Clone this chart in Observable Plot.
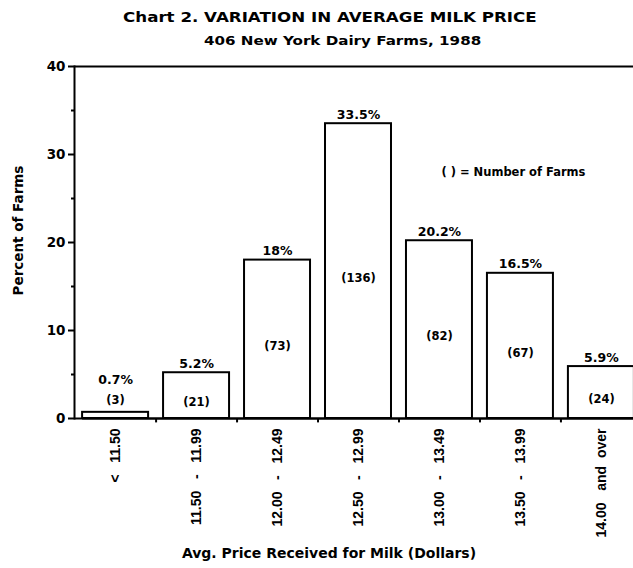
<!DOCTYPE html>
<html>
<head>
<meta charset="utf-8">
<script src="https://cdn.jsdelivr.net/npm/d3@7"></script>
<script src="https://cdn.jsdelivr.net/npm/@observablehq/plot@0.6"></script>
<style>
  html, body { margin: 0; padding: 0; background: white; }
  #wrap { position: relative; width: 633px; height: 568px; background: white; overflow: hidden; }
  .hdr { position: absolute; left: 0; width: 633px; text-align: center; font-family: "DejaVu Sans", sans-serif; font-weight: bold; line-height: 1; color: black; white-space: nowrap; }
  .hdr span { display: inline-block; transform-origin: center; }
  #title { top: 10px; font-size: 14.5px; }
  #title span { transform: scaleX(1.15); position: relative; left: 13px; }
  #subtitle { top: 35px; font-size: 12.5px; }
  #subtitle span { transform: scaleX(1.21); position: relative; left: 26px; }
  #chart { position: absolute; left: 0; top: 56px; }
</style>
</head>
<body>
<div id="wrap">
  <div class="hdr" id="title"><span>Chart 2. VARIATION IN AVERAGE MILK PRICE</span></div>
  <div class="hdr" id="subtitle"><span>406 New York Dairy Farms, 1988</span></div>
  <div id="chart"></div>
</div>
<script>
// ---- data ----
const categories = ["< 11.50", "11.50 - 11.99", "12.00 - 12.49", "12.50 - 12.99", "13.00 - 13.49", "13.50 - 13.99", "14.00 and over"];
const tickLabels = [
  "<\u00a0\u00a0\u00a011.50",
  "11.50\u00a0\u00a0\u00a0-\u00a0\u00a0\u00a011.99",
  "12.00\u00a0\u00a0\u00a0-\u00a0\u00a0\u00a012.49",
  "12.50\u00a0\u00a0\u00a0-\u00a0\u00a0\u00a012.99",
  "13.00\u00a0\u00a0\u00a0-\u00a0\u00a0\u00a013.49",
  "13.50\u00a0\u00a0\u00a0-\u00a0\u00a0\u00a013.99",
  "14.00\u00a0\u00a0\u00a0and\u00a0\u00a0over"
];
const percents = [0.7, 5.2, 18, 33.5, 20.2, 16.5, 5.9];
const percentLabels = ["0.7%", "5.2%", "18%", "33.5%", "20.2%", "16.5%", "5.9%"];
const farmCounts = [3, 21, 73, 136, 82, 67, 24];
const yTicks = [0, 10, 20, 30, 40];
const yMinorTicks = [5, 15, 25, 35];
const yTitle = "Percent of Farms";
const xTitle = "Avg. Price Received for Milk (Dollars)";
const legendText = "( ) = Number of Farms";
const legendPosition = {category: "13.50 - 13.99", value: 28};

// ---- table for Plot ----
const rows = categories.map((c, i) => ({cat: c, pct: percents[i], label: percentLabels[i], n: "(" + farmCounts[i] + ")"}));
const small = rows.filter(d => d.pct < 2);
const big = rows.filter(d => d.pct >= 2);
const tickLabelOf = new Map(categories.map((c, i) => [c, tickLabels[i]]));

const chart = Plot.plot({
  width: 633,
  height: 512,
  marginTop: 10,
  marginBottom: 150,
  marginLeft: 74,
  marginRight: 0,
  style: {fontFamily: "DejaVu Sans", fontWeight: "bold", background: "white", color: "black", overflow: "visible"},
  x: {domain: categories, range: [74, 642], paddingInner: 0.185, paddingOuter: 0.1, align: 0.5, round: false, axis: null},
  y: {domain: [0, 40], axis: null},
  marks: [
    Plot.barY(rows, {x: "cat", y: "pct", fill: "white", stroke: "black", strokeWidth: 2}),
    Plot.ruleY([0], {stroke: "black", strokeWidth: 2, x1: () => categories[0], x2: () => categories[6], dx: 0}),
    Plot.ruleY([0], {stroke: "black", strokeWidth: 2}),
    Plot.ruleY([40], {stroke: "black", strokeWidth: 2}),
    Plot.frame({anchor: "left", stroke: "black", strokeWidth: 2}),
    Plot.ruleX(categories.slice(0, -1), {x: d => d, dx: 40.5, y1: 0, y2: -0.5, stroke: "black", strokeWidth: 2}),
    Plot.axisY(yTicks, {anchor: "left", tickSize: 6, tickPadding: 3, strokeWidth: 2, fontSize: 13.5, fontWeight: "bold", label: null}),
    Plot.axisY(yMinorTicks, {anchor: "left", tickSize: 3, strokeWidth: 2, tickFormat: () => "", label: null}),
    Plot.axisX({anchor: "bottom", tickSize: 0, tickPadding: 10, tickRotate: -90, tickFormat: d => tickLabelOf.get(d), fontSize: 14, fontFamily: "Liberation Sans", fontWeight: "bold", label: null}),
    // percent labels above bars
    Plot.text(big, {x: "cat", y: "pct", text: "label", lineAnchor: "bottom", dy: -5, fontSize: 12.5}),
    Plot.text(small, {x: "cat", y: "pct", text: "label", lineAnchor: "bottom", dy: -28, fontSize: 12.5}),
    // farm counts
    Plot.text(big, {x: "cat", y: d => d.pct / 2, text: "n", lineAnchor: "middle", dy: 7, fontSize: 11.5}),
    Plot.text(small, {x: "cat", y: "pct", text: "n", lineAnchor: "bottom", dy: -8, fontSize: 11.5}),
    // legend note
    Plot.text([legendText], {x: () => legendPosition.category, y: () => legendPosition.value, text: d => d, dx: -7, lineAnchor: "middle", fontSize: 11.5}),
    // axis titles
    Plot.text([yTitle], {frameAnchor: "left", text: d => d, rotate: -90, textAnchor: "middle", lineAnchor: "middle", dx: -56, dy: -12, fontSize: 13.5}),
    Plot.text([xTitle], {frameAnchor: "bottom", text: d => d, textAnchor: "middle", lineAnchor: "bottom", dx: -25, dy: 139, fontSize: 14})
  ]
});
document.getElementById("chart").appendChild(chart);
</script>
</body>
</html>
